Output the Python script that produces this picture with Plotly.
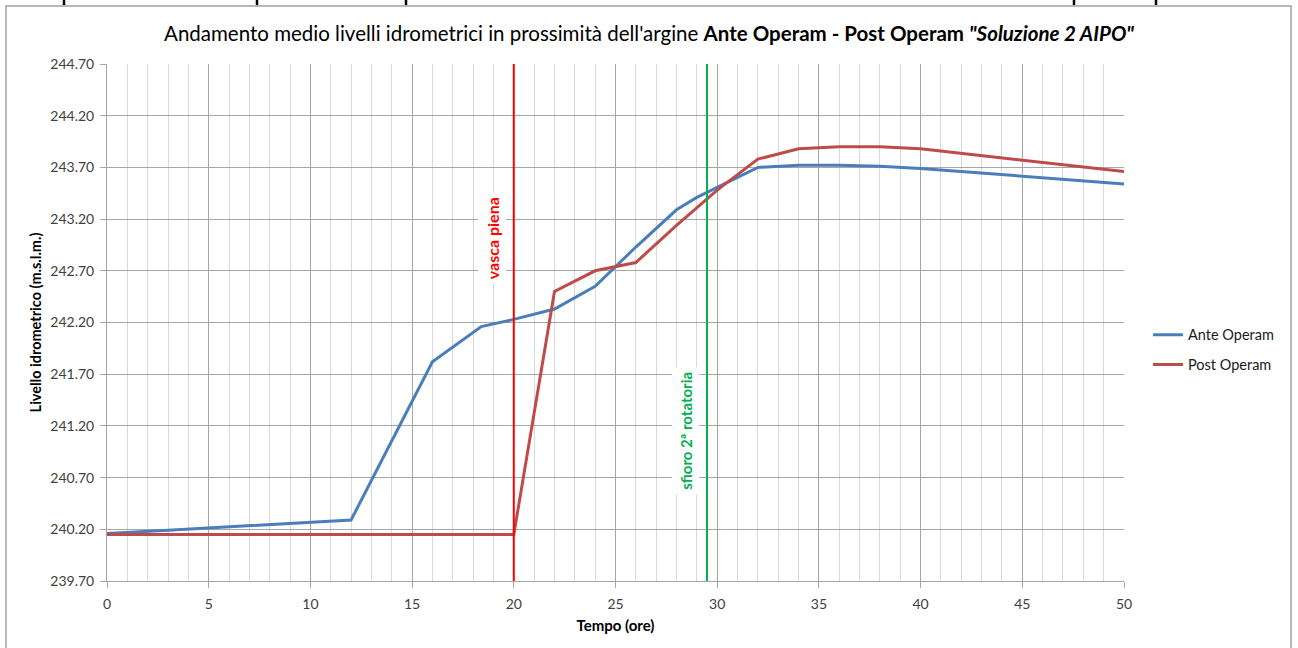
import plotly.graph_objects as go

# ---- data ----
ante_t = [0, 3, 12, 16, 18.4, 20, 22, 24, 26, 28, 29, 32, 34, 36, 38, 40, 50]
ante_v = [240.16, 240.19, 240.29, 241.82, 242.16, 242.23, 242.33, 242.55, 242.93,
          243.29, 243.41, 243.70, 243.72, 243.72, 243.71, 243.69, 243.54]

post_t = [0, 20, 22, 24, 26, 28, 30, 32, 34, 36, 38, 40, 50]
post_v = [240.15, 240.15, 242.50, 242.70, 242.78, 243.14, 243.48, 243.78,
          243.88, 243.90, 243.90, 243.88, 243.66]

vasca_t = 20
sfioro_t = 29.5

series_names = ["Ante Operam", "Post Operam"]
title_plain = "Andamento medio livelli idrometrici in prossimità dell'argine "
title_bold = "Ante Operam - Post Operam "
title_bi = "\"Soluzione 2 AIPO\""
x_title = "Tempo (ore)"
y_title = "Livello idrometrico (m.s.l.m.)"

FONT = "Lato, 'Open Sans', sans-serif"
W, H = 1298, 648
# plot area in page pixels: x 107..1124, y 64..581.5
L, T = 107, 64
R = W - 1124
B = H - 581.5
pw, ph = W - L - R, H - T - B


def px2paper_x(px):
    return (px - L) / pw


def px2paper_y(py):
    return (H - B - py) / ph


fig = go.Figure()
fig.add_trace(go.Scatter(x=ante_t, y=ante_v, mode="lines", name=series_names[0],
                         legendgroup="a", line=dict(color="#4A7EBB", width=3)))
fig.add_trace(go.Scatter(x=post_t, y=post_v, mode="lines", name=series_names[1],
                         legendgroup="b", line=dict(color="#BE4B48", width=3)))

y_min, y_max = 239.7, 244.7

# vertical reference lines
fig.add_shape(type="line", xref="x", yref="y", x0=vasca_t, x1=vasca_t, y0=y_min, y1=y_max,
              line=dict(color="#FF0000", width=2), layer="above")
fig.add_shape(type="line", xref="x", yref="y", x0=sfioro_t, x1=sfioro_t, y0=y_min, y1=y_max,
              line=dict(color="#00B050", width=2), layer="above")

fig.add_annotation(x=18.95, y=243.02, xref="x", yref="y", text="<b>vasca piena</b>",
                   textangle=-90, showarrow=False, bgcolor="white",
                   font=dict(family=FONT, size=16, color="#FF0000"), borderpad=4)
fig.add_annotation(x=28.45, y=241.15, xref="x", yref="y", text="<b>sfioro 2ª rotatoria</b>",
                   textangle=-90, showarrow=False, bgcolor="white",
                   font=dict(family=FONT, size=15, color="#00B050"), borderpad=4)

# outer chart border and top cut-off marks
fig.add_shape(type="rect", xref="paper", yref="paper",
              x0=px2paper_x(6), x1=px2paper_x(1291), y0=px2paper_y(690), y1=px2paper_y(6),
              line=dict(color="#A0A0A0", width=1.5), layer="below")
for mx in [64, 257, 406, 1074, 1156]:
    fig.add_shape(type="line", xref="paper", yref="paper",
                  x0=px2paper_x(mx), x1=px2paper_x(mx), y0=px2paper_y(-2), y1=px2paper_y(5),
                  line=dict(color="black", width=2.5))

fig.update_layout(
    width=W, height=H,
    margin=dict(l=L, r=R, t=T, b=B),
    paper_bgcolor="white", plot_bgcolor="white",
    font=dict(family=FONT, size=14, color="#404040"),
    title=dict(text=title_plain + "<b>" + title_bold + "<i>" + title_bi + "</i></b>",
               x=649 / W, xanchor="center", y=1 - 34 / H, yanchor="middle",
               font=dict(family=FONT, size=20.5, color="#000000")),
    legend=dict(x=px2paper_x(1148), y=px2paper_y(350), xanchor="left", yanchor="middle",
                font=dict(family=FONT, size=14.5, color="#1a1a1a"),
                bgcolor="rgba(0,0,0,0)", itemwidth=30, tracegroupgap=8),
    showlegend=True,
)

fig.update_xaxes(range=[0, 50], tick0=0, dtick=5, showgrid=True, gridcolor="#A6A6A6", gridwidth=1,
                 minor=dict(dtick=1, showgrid=True, gridcolor="#D9D9D9", gridwidth=1),
                 showline=True, linecolor="#A6A6A6", linewidth=1,
                 ticks="outside", ticklen=6, tickcolor="#A6A6A6", ticklabelstandoff=4,
                 tickfont=dict(family=FONT, size=14, color="#404040"),
                 title=dict(text="<b>" + x_title + "</b>", standoff=9,
                            font=dict(family=FONT, size=15, color="#000000")),
                 zeroline=False, mirror=False)
fig.update_yaxes(range=[y_min, y_max], tick0=y_min, dtick=0.5, tickformat=".2f",
                 showgrid=True, gridcolor="#A6A6A6", gridwidth=1,
                 showline=True, linecolor="#A6A6A6", linewidth=1,
                 ticks="outside", ticklen=6, tickcolor="#A6A6A6", ticklabelstandoff=3,
                 tickfont=dict(family=FONT, size=14, color="#404040"),
                 title=dict(text="<b>" + y_title + "</b>", standoff=5,
                            font=dict(family=FONT, size=14.5, color="#000000")),
                 zeroline=False)

fig.write_html("out.html", config={"displayModeBar": False},
               post_script="document.body.style.margin='0px';")
